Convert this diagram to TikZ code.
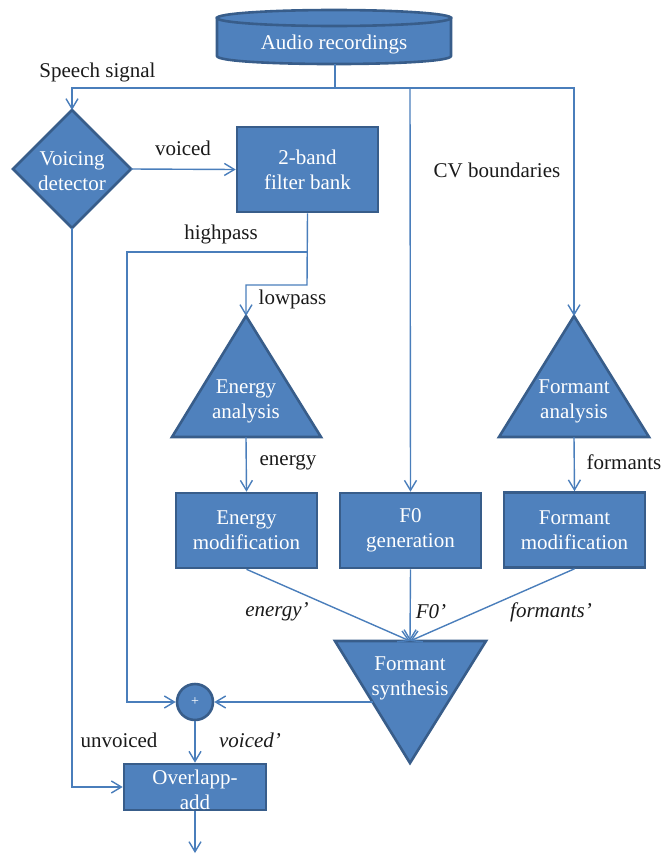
\documentclass[tikz,border=0pt]{standalone}
\usepackage{fontspec}
\setmainfont{Liberation Serif}
\usetikzlibrary{arrows.meta,calc}
\definecolor{boxfill}{HTML}{4F81BD}
\definecolor{boxline}{HTML}{385D8A}
\definecolor{conn}{HTML}{4A7EBB}
\definecolor{lbl}{HTML}{1A1A1A}
\tikzset{
  shapestyle/.style={fill=boxfill,draw=boxline,line width=2.6pt,line join=miter},
  rectbox/.style={shapestyle,minimum width=141pt,minimum height=75pt,inner sep=0pt},
  intext/.style={text=white,align=center,font=\fontsize{21}{25}\selectfont,inner sep=0pt},
  boxtext/.style={intext},
  lab/.style={text=lbl,font=\fontsize{21}{25}\selectfont,inner sep=0pt},
  conline/.style={draw=conn,line width=1.4pt},
  arr/.style={conline,-{Straight Barb[length=10pt,width=12pt]}},
}
\begin{document}
\begin{tikzpicture}[x=1pt,y=-1pt]
\useasboundingbox (0,0) rectangle (663,854);
% Audio recordings cylinder
\path[shapestyle] (217,18) -- (217,56) .. controls (217,66.7) and (451,66.7) .. (451,56) -- (451,18) -- cycle;
\path[shapestyle] (334,18) ellipse [x radius=117pt, y radius=8pt];
\node[intext] (audio) at (334,44) {Audio recordings};
\coordinate (audiob) at (335,64);
% Voicing detector diamond
\path[shapestyle] (72,110) -- (131,169) -- (72,228) -- (13,169) -- cycle;
\coordinate (vdt) at (72,110);
\coordinate (vdr) at (131,169);
\coordinate (vdb) at (72,228);
\node[intext] (vd) at (72,171) {Voicing\\detector};
% filter bank
\node[rectbox,minimum height=85pt,text=white,align=center,font=\fontsize{21}{25}\selectfont] (fb) at (307.5,169.5) {2-band\\filter bank};
% energy analysis triangle
\path[shapestyle] (246,316) -- (321,437) -- (172,437) -- cycle;
\coordinate (eat) at (246,316);
\coordinate (eab) at (246,437);
\node[intext] (ea) at (246,401) {Energy\\analysis};
% formant analysis triangle
\path[shapestyle] (574,316) -- (649,437) -- (499,437) -- cycle;
\coordinate (fat) at (574,316);
\coordinate (fab) at (574,437);
\node[intext] (fa) at (574,401) {Formant\\analysis};
% modification boxes
\node[rectbox,text=white,align=center,font=\fontsize{21}{25}\selectfont] (em) at (246.5,530.5) {Energy\\modification};
\node[rectbox,text=white,align=center,font=\fontsize{21}{25}\selectfont] (f0) at (410.5,530.5) {F0\\generation};
\node[rectbox,text=white,align=center,font=\fontsize{21}{25}\selectfont] (fm) at (574.5,530) {Formant\\modification};
% formant synthesis
\path[shapestyle] (335,641) -- (486,641) -- (410,763) -- cycle;
\coordinate (fst) at (410,641);
\coordinate (fsl) at ($(335,641)!0.5!(410,763)$);
\node[intext] (fs) at (410,678) {Formant\\synthesis};
% adder
\node[shapestyle,circle,minimum size=36pt,inner sep=0pt,text=white,font=\fontsize{14}{16}\selectfont] (add) at (195,702) {+};
% overlap-add
\node[shapestyle,minimum width=142pt,minimum height=46pt,inner sep=0pt] (ola) at (195,787) {};
\node[intext] (olatext) at (195,790) {Overlapp-\\add};
\coordinate (out) at (195,853);
% junctions
\coordinate (j1) at (335,88);
\coordinate (hp) at (307,252);
% connectors
\draw[conline] (audiob) -- (j1);
\draw[arr] (j1) -- (72,88) -- (vdt);
\draw[arr] (j1) -- (574,88) -- (fat);
\draw[arr] (410,88) -- (f0.north);
\draw[arr] (vdr) -- (fb.west);
\draw[arr] (fb.south) -- (307,285) -- (246,285) -- (eat);
\draw[arr] (hp) -- (127,252) -- (127,702) -- (add.west);
\draw[arr] (eab) -- (em.north);
\draw[arr] (fab) -- (fm.north);
\draw[arr] (em.south) -- (fst);
\draw[arr] (f0.south) -- (fst);
\draw[arr] (fm.south) -- (fst);
\draw[arr] (fsl) -- (add.east);
\draw[arr] (add.south) -- (ola.north);
\draw[arr] (vdb) -- (72,787) -- (ola.west);
\draw[arr] (ola.south) -- (out);
% labels
\node[lab] (l1) at (97.5,72) {Speech signal};
\node[lab] (l2) at (183,148) {voiced};
\node[lab] (l3) at (221,234) {highpass};
\node[lab] (l4) at (292.5,299) {lowpass};
\node[lab] (l5) at (497,170) {CV boundaries};
\node[lab] (l6) at (288,462) {energy};
\node[lab] (l7) at (624,462) {formants};
\node[lab] (l8) at (277,612) {\itshape energy’};
\node[lab] (l9) at (431,612) {\itshape F0’};
\node[lab] (l10) at (551,612) {\itshape formants’};
\node[lab] (l11) at (119,740) {unvoiced};
\node[lab] (l12) at (250,740) {\itshape voiced’};
\end{tikzpicture}
\end{document}
